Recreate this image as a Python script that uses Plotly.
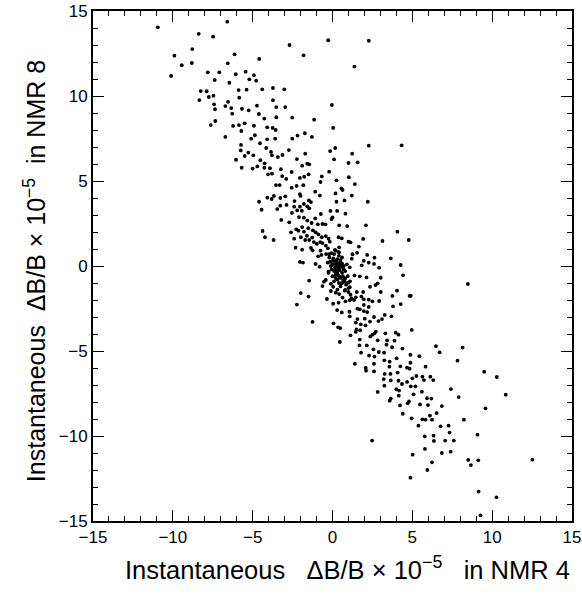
import plotly.graph_objects as go

# Instantaneous dB/B x 1e-5 : (NMR 4, NMR 8) pairs
upper_nmr4 = [-10.94, -6.59, -8.38, -7.48, -8.78, -9.90, -6.13, -9.44, -8.81, -6.56, -10.11, -7.81, -7.09, -6.06,
              -5.44, -7.38, -5.21, -6.46, -8.25, -7.88, -5.88, -5.38, -7.75, -7.46, -8.34, -5.84, -6.54, -7.42,
              -6.71, -6.34, -7.36, -5.67, -5.25, -6.28, -7.34, -7.63, -5.50, -5.86, -6.23, -5.71, -6.71,
              -0.27, 2.27, -2.69, -1.81, -4.59, 1.37, -4.92, -4.78, -4.40, -3.73, -3.02, -3.73, -4.73, -3.52,
              -2.96, -0.04, -4.61, -4.27, -3.52, -2.52, -1.15, -4.92, -4.09, -3.75, -3.56, 0.04, -4.86, -5.09,
              -4.09, -3.59, -2.52, -2.19, -1.73, -1.29,
              -5.73, -5.75, -5.27, -5.50, -6.04, -5.69]
upper_nmr8 = [14.04, 14.37, 13.66, 13.49, 12.76, 12.37, 12.45, 11.81, 11.94, 11.92, 11.18, 11.39, 11.39, 11.28,
              11.43, 10.94, 10.98, 10.78, 10.29, 10.28, 10.35, 10.37, 9.94, 10.02, 9.76, 9.90, 9.66, 9.51,
              9.41, 9.29, 9.22, 9.25, 9.16, 8.96, 8.53, 8.29, 8.39, 8.29, 8.24, 7.94, 7.59,
              13.28, 13.25, 13.00, 12.39, 12.18, 11.73, 11.22, 10.90, 10.39, 10.47, 10.39, 9.75, 9.43, 9.35,
              9.35, 9.47, 8.94, 8.67, 8.75, 8.73, 8.61, 8.25, 8.16, 8.12, 8.00, 8.12, 7.69, 7.49,
              7.45, 7.49, 7.49, 7.67, 7.81, 7.59,
              7.12, 6.80, 6.67, 6.47, 6.25, 5.78]

middle_nmr4 = [-4.54, -4.15, -3.85, -3.79, -4.96, -3.42, -3.13, -2.73, -1.71, -2.23, -1.90, -1.58, -1.46, -4.52,
               -4.25, -4.71, -5.00, -4.27, -3.92, -4.04, -3.79, -3.23, -3.15, -2.56, -2.90, -2.04, -1.77, -1.50,
               -0.67, -0.21, -0.75, 0.25, -0.15, 0.17, 0.10, 1.23, 1.00, 1.58, 2.27, 4.33, 1.02, 1.40, -3.54,
               -3.31, -2.56, -2.25, -1.83, -1.08, -0.79, 0.56, 0.63, 0.19, 0.25, 0.75, 1.21, 2.21, -2.04, -2.00,
               -2.96, -3.27, -3.81, -4.08, -3.67, -4.60, -4.44, -3.46, -3.27, -2.88, -2.38, -2.04, -1.79, -1.48,
               -1.58, -1.35, -1.46, -2.54, -2.21, -1.92, -2.40, -0.73, -1.08, -0.63, -3.21, -2.71, -2.10, -1.79,
               -1.58, -1.31, -0.92, -0.44, -0.13, 0.00, 0.29, -0.06, 0.42, 0.81, 0.92, 2.10, 4.06, 3.13, 4.77,
               1.92, 1.65, -4.38, -4.23, -3.69, -2.60, -2.27, -2.13, -1.90, -1.79, -1.52, -1.23, -1.06, -1.60,
               -2.40, -1.98, -1.71, -1.46, -1.27, -0.88, -0.67, -0.42, -0.25, -0.17, 0.38, 0.58, 1.00, 1.13,
               -1.17, -0.98, -0.77, -0.63, -0.42, -2.31, -1.90, -1.35, -1.25, -0.75, -0.29, 0.15, 0.42, 0.38,
               -0.90, -0.69, -0.21, -0.06, 1.54, 1.25, 2.17, 2.63, 1.21, 1.96, 1.83, 2.27, 2.60, 3.65, 4.27,
               -2.04, -1.85, -1.06, -0.81, 1.08, 2.92]
middle_nmr8 = [7.22, 6.94, 6.71, 6.51, 6.51, 6.41, 6.53, 6.82, 6.61, 6.29, 5.90, 6.02, 5.98, 6.22,
               6.04, 5.86, 5.73, 5.78, 5.75, 5.39, 5.43, 5.69, 5.29, 5.53, 5.12, 5.18, 5.25, 5.39,
               5.27, 5.55, 4.94, 5.04, 6.76, 6.94, 6.27, 6.61, 6.06, 6.10, 7.08, 7.10, 5.22, 4.82, 4.76,
               4.76, 4.61, 4.71, 4.75, 4.37, 4.14, 4.57, 4.47, 4.27, 3.78, 3.86, 4.14, 3.78, 4.22, 4.12,
               4.10, 4.00, 3.94, 4.02, 4.12, 3.78, 3.31, 3.35, 3.55, 3.59, 3.82, 3.49, 3.65, 3.86,
               3.51, 3.76, 3.39, 3.12, 3.27, 3.25, 3.49, 3.06, 2.80, 2.47, 2.71, 2.57, 2.88, 2.84,
               2.67, 2.53, 2.45, 2.45, 3.24, 2.86, 3.24, 2.76, 2.39, 3.08, 2.35, 2.39, 2.02, 1.47, 1.53,
               1.59, 1.14, 2.06, 1.69, 1.53, 1.98, 2.16, 2.08, 2.29, 2.02, 2.22, 2.10, 1.98, 1.78,
               1.61, 1.69, 1.53, 1.53, 1.67, 1.86, 1.69, 1.76, 1.61, 1.43, 1.69, 1.63, 1.43, 1.39,
               1.41, 1.31, 1.41, 1.35, 1.20, 1.08, 0.96, 1.06, 0.92, 0.90, 1.04, 0.94, 1.10, 0.82,
               0.57, 0.65, 0.69, 0.75, 0.78, 0.69, 0.65, 0.49, 0.43, 0.31, 0.04, 0.20, 0.12, 0.45, 0.06,
               0.24, 0.20, 0.12, -0.04, -0.08, -0.10]

core_nmr4 = [0.00, 0.20, 0.40, 0.30, 0.10, 0.50, -0.10, 0.60, 0.20, 0.40, -0.20, 0.70, 0.30, 0.00, 0.50, 0.80,
             -0.30, 0.10, 0.60, 0.35, 0.15, 0.45, 0.25, -0.05, 0.55, 0.30, 0.05, 0.65, 0.90, -0.25, 0.20, 0.40,
             0.75, 0.10, -0.40, 0.95, 0.30, 0.50, 0.15, 0.25, 0.60, 0.35, 0.00, 0.45, 0.70, 0.20, -0.15, 0.40,
             0.85, 1.10, 0.60, 1.00, 0.80, 0.50, 0.29, 0.46, 0.67, 0.88, 1.08, 1.00, 0.54, 0.79, -0.25, -0.42]
core_nmr8 = [0.30, 0.10, -0.10, 0.40, -0.30, 0.20, 0.00, -0.40, -0.50, 0.60, 0.50, 0.00, -0.80, -0.60, -0.70, -0.30,
             0.20, 0.70, 0.50, 0.15, -0.10, -0.25, 0.25, -0.20, -0.05, -0.40, 0.45, -0.60, 0.10, -0.40, 0.90, -1.00,
             -0.90, -0.90, 0.70, -0.60, 0.00, 0.35, 0.30, -0.25, 0.15, -0.55, 0.10, 0.05, -0.20, -0.70, 0.25, 0.80,
             -1.10, -0.90, -1.00, -1.30, -1.40, -1.20, -0.43, -0.63, -0.82, -1.02, -1.25, -0.98, -1.02, -0.73, -0.33, -0.82]

lower_nmr4 = [4.42, 3.02, 2.13, 1.71, 1.38, -1.46, -0.54, -0.63, -0.10, 0.04, 2.35, 2.83, 2.69, -1.99, -1.50,
              -2.23, -0.35, -0.10, 0.21, 0.31, 0.42, 0.77, 1.00, 1.13, 1.52, 1.92, 1.19, 1.46, 0.63, 0.38, 0.81,
              1.08, 1.35, 1.81, 1.96, 2.27, 2.50, 3.02, 2.92, 3.75, 4.04, 4.27, 3.79, 4.83, 1.96, 2.27, 0.04,
              0.29, 0.58, 1.06, 1.56, 1.71, 1.96, 2.17, -1.25, 0.06, 0.35, 0.48, 1.08, 1.56, 2.02, 2.35, 2.60,
              2.88, 3.10, 3.27, 3.69, 1.46, 1.77, 2.06, 1.50, 1.46, 1.73, 1.13, 2.37, 2.50, 2.63, 2.71, 3.31,
              3.96, 4.13, 0.46, 1.71, 1.69, 2.15, 2.83, 3.42, 3.88, 3.38, 3.73, 4.38, 1.79, 2.56, 2.90, 3.23,
              2.29, 2.63, 3.25, 3.58, 4.02, 1.40, 2.08, 2.10, 2.60, 2.60, 3.56, 4.25, 4.67, 3.27, 3.63, 4.08,
              3.21, 3.65, 4.13, 4.35, 4.67, 3.25, 4.00, 4.17, 2.83, 3.65, 4.15,
              8.48, 4.90, 4.96, 6.48, 6.71, 8.15, 4.88, 5.44, 4.88, 5.83, 7.83, 4.83, 5.00, 5.25, 5.63, 5.73,
              6.13, 6.31, 9.50, 10.29, 4.90, 5.19, 5.60, 5.08, 7.42, 5.92, 6.19, 7.90, 10.85,
              5.48, 5.98, 6.85, 9.58, 4.96, 5.63, 5.83, 6.10, 6.23, 6.52, 8.23, 5.38, 6.77, 7.27, 7.33, 5.77,
              6.33, 6.35, 7.06, 7.60, 9.08, 5.02, 5.79, 6.85, 7.40, 6.23, 8.50, 9.13, 8.67, 12.52, 5.94, 4.88,
              9.15, 10.27, 9.27,
              3.58, 4.23, 4.71, 4.79, 4.40, 2.48]
lower_nmr8 = [-0.55, -0.69, -0.67, -0.61, -0.55, -0.86, -0.92, -1.18, -1.04, -1.22, -1.22, -1.02, -1.12, -1.59, -1.80,
              -2.27, -1.94, -1.47, -1.57, -1.39, -1.65, -1.45, -1.53, -1.69, -1.53, -1.53, -1.90, -1.84, -1.86, -2.16, -2.08,
              -2.02, -2.00, -1.80, -1.96, -1.98, -2.08, -1.53, -2.06, -1.76, -1.45, -2.24, -2.37, -1.76, -2.29, -2.41, -2.22,
              -2.59, -2.73, -2.69, -2.51, -2.55, -2.65, -2.71, -3.29, -3.37, -3.61, -3.65, -2.96, -3.12, -3.10, -3.27, -3.00,
              -3.24, -3.12, -2.88, -2.96, -3.33, -3.43, -3.49, -3.73, -3.88, -3.78, -4.08, -4.14, -4.04, -3.96, -3.86, -3.96,
              -3.92, -4.04, -4.47, -4.33, -4.67, -4.67, -4.37, -4.37, -4.39, -4.63, -4.78, -4.86, -5.10, -4.90, -5.06, -5.10,
              -5.27, -5.33, -5.55, -5.63, -5.43, -5.75, -6.00, -6.16, -6.20, -5.75, -5.92, -5.90, -5.98, -6.35, -6.35, -6.27,
              -6.65, -6.73, -6.75, -6.94, -6.82, -7.04, -7.25, -7.33, -7.41, -7.80, -7.63,
              -1.06, -1.75, -3.76, -4.71, -5.08, -4.80, -5.22, -5.31, -5.69, -5.92, -5.57, -6.04, -6.61, -6.47, -6.51, -6.71,
              -6.51, -6.71, -6.22, -6.53, -7.08, -7.08, -7.39, -7.55, -7.24, -7.78, -7.80, -7.71, -7.57,
              -8.14, -8.18, -8.24, -8.37, -8.96, -9.02, -9.04, -8.80, -9.04, -8.65, -9.04, -9.39, -9.43, -9.39, -9.80, -10.02,
              -9.98, -10.29, -10.27, -10.27, -9.92, -11.10, -10.76, -11.00, -10.92, -11.55, -11.41, -11.43, -11.71, -11.39, -12.00, -12.45,
              -13.27, -13.61, -14.67,
              -7.92, -8.20, -8.08, -7.96, -8.69, -10.27]

nmr4 = upper_nmr4 + middle_nmr4 + core_nmr4 + lower_nmr4
nmr8 = upper_nmr8 + middle_nmr8 + core_nmr8 + lower_nmr8

tick_vals = [-15, -10, -5, 0, 5, 10, 15]
x_title = "Instantaneous\u00a0\u00a0\u00a0\u0394B/B \u00d7 10<sup>\u22125</sup>\u00a0\u00a0\u00a0in NMR 4"
y_title = "Instantaneous\u00a0\u00a0\u0394B/B \u00d7 10<sup>\u22125</sup>\u00a0\u00a0in NMR 8"
FONT = "Liberation Sans, Arial, Helvetica, sans-serif"

fig = go.Figure(go.Scatter(
    x=nmr4, y=nmr8, mode="markers",
    marker=dict(color="black", size=3.8, line=dict(width=0)),
    showlegend=False,
))

axis_common = dict(
    range=[-15, 15], tickvals=tick_vals, ticks="inside", ticklen=11, tickwidth=1.2,
    tickcolor="black", showline=True, linecolor="black", linewidth=2, mirror="ticks",
    showgrid=False, zeroline=False, automargin=False,
    tickfont=dict(family=FONT, size=17, color="black"),
    minor=dict(dtick=1, ticks="inside", ticklen=5, tickwidth=1, tickcolor="black", showgrid=False),
)

fig.update_layout(
    width=582, height=595,
    margin=dict(l=93, r=10, t=11, b=74),
    paper_bgcolor="white", plot_bgcolor="white",
    font=dict(family=FONT, color="black"),
    xaxis=axis_common,
    yaxis=axis_common,
    annotations=[
        dict(text=x_title, xref="paper", yref="paper", x=1.0, y=-0.092,
             xanchor="right", yanchor="middle", showarrow=False,
             font=dict(family=FONT, size=25.5, color="black")),
        dict(text=y_title, xref="paper", yref="paper", x=-0.121, y=0.49,
             xanchor="center", yanchor="middle", textangle=-90, showarrow=False,
             font=dict(family=FONT, size=25, color="black")),
    ],
)

fig.write_html("out.html")
